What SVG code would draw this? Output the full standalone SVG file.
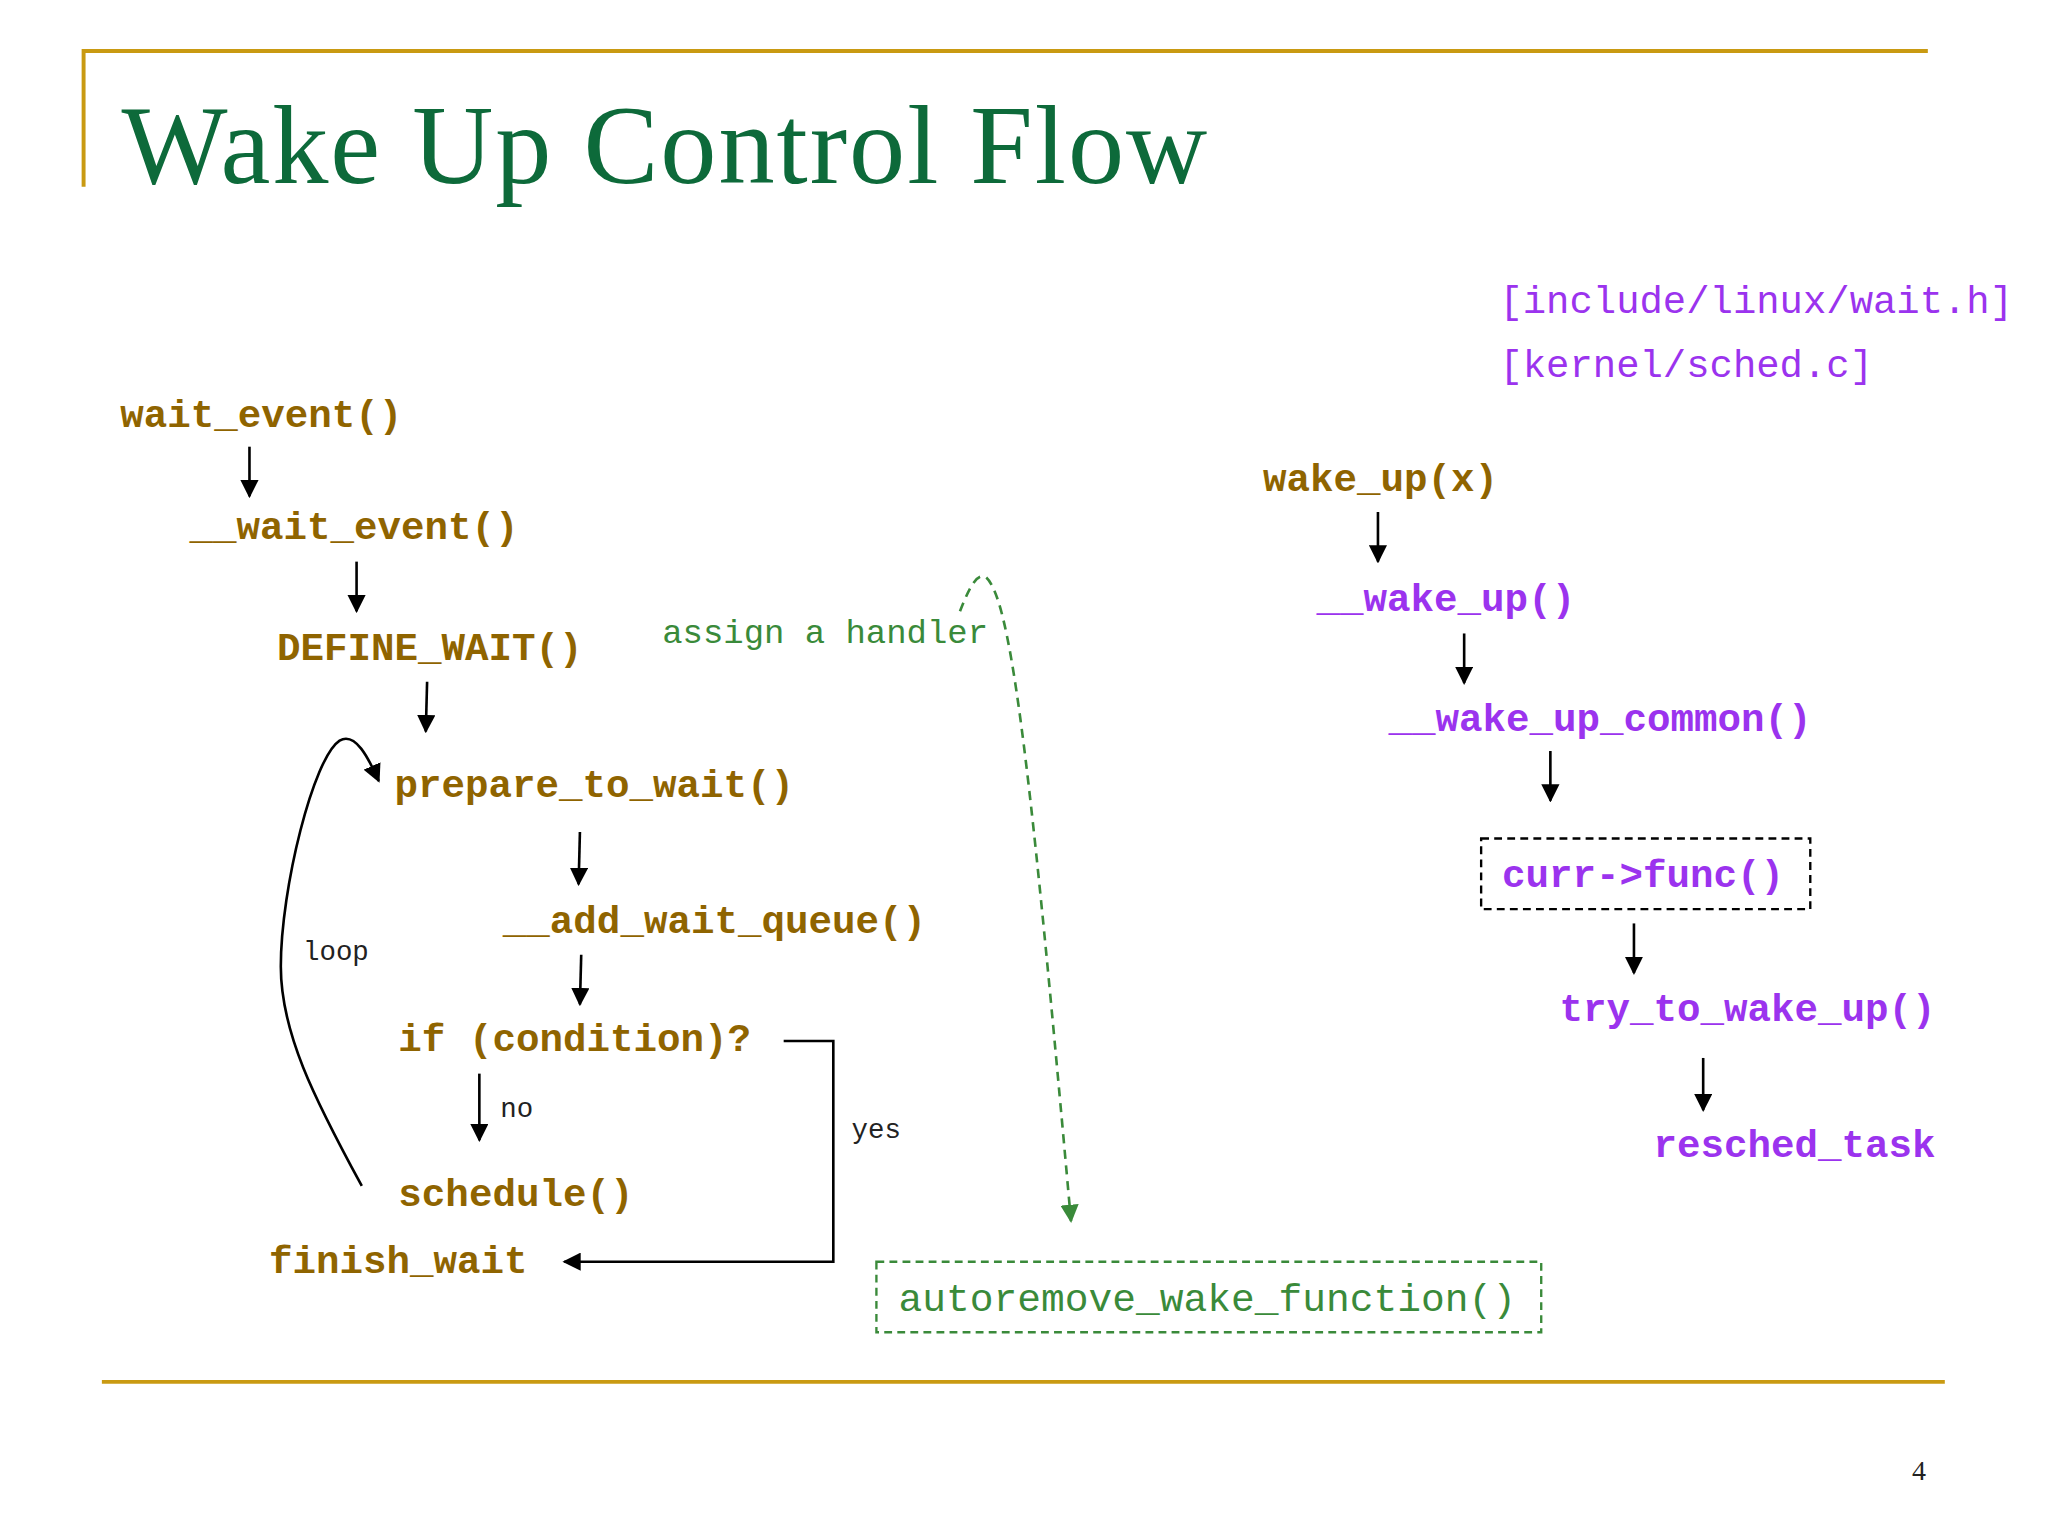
<svg xmlns="http://www.w3.org/2000/svg" width="2048" height="1536" viewBox="0 0 2048 1536">
<defs>
<style>
.c{font-family:"Liberation Mono","Courier New",monospace;font-weight:bold;font-size:30px}
.g{fill:#8f6400}.p{fill:#9b33ee}
.n{font-family:"Liberation Mono","Courier New",monospace;font-size:21px;fill:#222}
.ln{stroke:#000;stroke-width:2;fill:none}
</style>
<marker id="a" viewBox="0 0 10 10" refX="9" refY="5" markerWidth="7" markerHeight="7" orient="auto"><path d="M0,0L10,5L0,10z" fill="#000"/></marker>
<marker id="ag" viewBox="0 0 10 10" refX="9" refY="5" markerWidth="7" markerHeight="7" orient="auto"><path d="M0,0L10,5L0,10z" fill="#3a8a3a"/></marker>
</defs>
<rect width="2048" height="1536" fill="#fff"/>
<g transform="scale(1.30612)">
<g id="frame" stroke="#c99a12" stroke-width="3" fill="none"><path d="M64,143V39H1476"/><path d="M78,1058H1489"/></g>
<text x="93" y="140" font-family="Liberation Serif,serif" font-size="86" letter-spacing="1.5" fill="#0d6a3a">Wake Up Control Flow</text>
<text x="1912" y="1480" transform="scale(0.7656)" font-family="Liberation Serif,serif" font-size="28" fill="#222">4</text>
<text x="1148" y="240" font-family="Liberation Mono,monospace" font-size="29.8" class="p">[include/linux/wait.h]</text>
<text x="1148" y="289" font-family="Liberation Mono,monospace" font-size="29.8" class="p">[kernel/sched.c]</text>
<g id="n1"><text class="c g" x="92" y="327">wait_event()</text></g>
<g id="n2"><text class="c g" x="145" y="413">__wait_event()</text></g>
<g id="n3"><text class="c g" x="212" y="505">DEFINE_WAIT()</text></g>
<g id="n4"><text class="c g" x="302" y="610">prepare_to_wait()</text></g>
<g id="n5"><text class="c g" x="385" y="714">__add_wait_queue()</text></g>
<g id="n6"><text class="c g" x="305" y="805">if (condition)?</text></g>
<g id="n7"><text class="c g" x="305" y="923">schedule()</text></g>
<g id="n8"><text class="c g" x="206" y="975">finish_wait</text></g>
<g id="n9"><rect x="671" y="966" width="509" height="54" fill="none" stroke="#3a8a3a" stroke-width="1.8" stroke-dasharray="6,4"/><text x="688" y="1004" font-family="Liberation Mono,monospace" font-size="30.3" fill="#3a8a3a">autoremove_wake_function()</text></g>
<g id="r1"><text class="c g" x="967" y="376">wake_up(x)</text></g>
<g id="r2"><text class="c p" x="1008" y="468">__wake_up()</text></g>
<g id="r3"><text class="c p" x="1063" y="560">__wake_up_common()</text></g>
<g id="r4"><rect x="1134" y="642" width="252" height="54" fill="none" stroke="#000" stroke-width="1.8" stroke-dasharray="6,4"/><text class="c p" x="1150" y="679">curr-&gt;func()</text></g>
<g id="r5"><text class="c p" x="1194" y="782">try_to_wake_up()</text></g>
<g id="r6"><text class="c p" x="1266" y="886">resched_task</text></g>
<g id="labels">
<text x="507" y="492" font-family="Liberation Mono,monospace" font-size="26" fill="#3a8a3a">assign a handler</text>
<text class="n" x="232" y="735">loop</text><text class="n" x="383" y="855">no</text><text class="n" x="652" y="871">yes</text>
</g>
<g id="connectors">
<path class="ln" marker-end="url(#a)" d="M191,342V380"/>
<path class="ln" marker-end="url(#a)" d="M273,430V468"/>
<path class="ln" marker-end="url(#a)" d="M327,522L326,560"/>
<path class="ln" marker-end="url(#a)" d="M444,637L443,677"/>
<path class="ln" marker-end="url(#a)" d="M445,731L444,769"/>
<path class="ln" marker-end="url(#a)" d="M367,822V873"/>
<path class="ln" marker-end="url(#a)" d="M600,797H638V966H432"/>
<path class="ln" marker-end="url(#a)" d="M277,908C240,840 215,790 215,740C215,680 240,580 260,567C272,560 282,580 290,598"/>
<path fill="none" stroke="#3a8a3a" stroke-width="2" stroke-dasharray="7,5" marker-end="url(#ag)" d="M735,468C742,450 748,438 755,442C775,460 790,600 820,935"/>
<path class="ln" marker-end="url(#a)" d="M1055,392V430"/>
<path class="ln" marker-end="url(#a)" d="M1121,485V523"/>
<path class="ln" marker-end="url(#a)" d="M1187,575V613"/>
<path class="ln" marker-end="url(#a)" d="M1251,707V745"/>
<path class="ln" marker-end="url(#a)" d="M1304,810V850"/>
</g>
</g>
</svg>
